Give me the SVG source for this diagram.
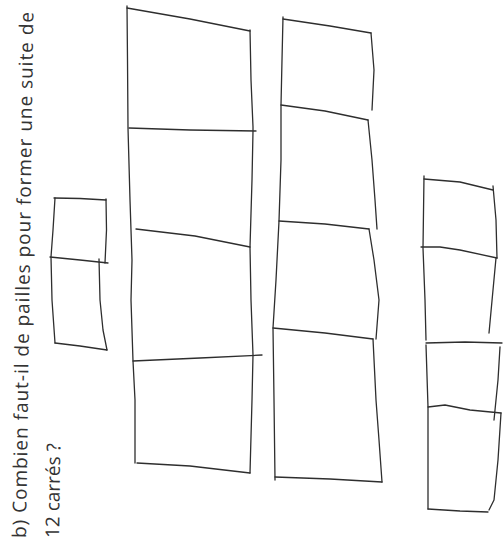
<svg xmlns="http://www.w3.org/2000/svg" width="503" height="543" viewBox="0 0 503 543">
<style>
.pen{fill:none;stroke:#2e2e2e;stroke-width:1.3;stroke-linecap:round;stroke-linejoin:round}
.q{font-family:"Open Sans","DejaVu Sans",sans-serif;font-size:19px;fill:#333333}
</style>
<rect width="503" height="543" fill="#ffffff"/>
<g id="question">
<text class="q" transform="translate(26,538) rotate(-89.2)" textLength="526" lengthAdjust="spacing">b) Combien faut-il de pailles pour former une suite de</text>
<text class="q" transform="translate(59,538) rotate(-89.2)">12 carrés ?</text>
</g>
<g id="stack-2">
<path class="pen" d="M54,198 L80,198.5 L106,200"/>
<path class="pen" d="M106,199 L106.5,230 L105,263"/>
<path class="pen" d="M55,198 L53,230 L51,257 L52,300 L55,343"/>
<path class="pen" d="M50,257 L80,260 L108,263"/>
<path class="pen" d="M99,259 L100,300 L103,330 L107,350"/>
<path class="pen" d="M55,343 L80,346 L107,350"/>
</g>
<g id="stack-4a">
<path class="pen" d="M127,8 L190,19 L250,31"/>
<path class="pen" d="M127,6 L127.5,60 L128,128 L130,200 L132,260 L131,300 L133,361 L135,400 L135,463"/>
<path class="pen" d="M250,30 L251,80 L253,127 L253,131 L252,180 L250,247 L251,300 L253,355 L252,400 L250,473"/>
<path class="pen" d="M129,128 L190,130 L256,131"/>
<path class="pen" d="M136,229 L195,236 L250,247"/>
<path class="pen" d="M133,361 L200,358 L262,355"/>
<path class="pen" d="M137,463 L190,466 L250,473"/>
</g>
<g id="stack-4b">
<path class="pen" d="M283,19 L330,26 L371,33"/>
<path class="pen" d="M283,17 L282,60 L281,105 L281,160 L279,221 L276,280 L273,328 L274,400 L275,480"/>
<path class="pen" d="M371,33 L374,70 L372,110"/>
<path class="pen" d="M281,105 L325,111 L368,120"/>
<path class="pen" d="M368,120 L372,160 L375,200 L377,229"/>
<path class="pen" d="M279,221 L325,224 L369,229"/>
<path class="pen" d="M369,229 L374,260 L379,300 L376,339"/>
<path class="pen" d="M273,328 L325,333 L373,339"/>
<path class="pen" d="M373,339 L376,400 L379,440 L382,482"/>
<path class="pen" d="M275,477 L330,479 L382,482"/>
</g>
<g id="stack-4c">
<path class="pen" d="M424,179 L460,182 L493,190"/>
<path class="pen" d="M493,186 L496,220 L497,258"/>
<path class="pen" d="M421,247 L440,247 L460,250 L497,258"/>
<path class="pen" d="M496,258 L493,290 L489,333"/>
<path class="pen" d="M426,343 L465,342 L502,343"/>
<path class="pen" d="M500,347 L498,380 L494,420"/>
<path class="pen" d="M428,407 L445,405 L470,410 L501,413"/>
<path class="pen" d="M501,413 L498,460 L494,500 L489,510"/>
<path class="pen" d="M428,509 L460,511 L488,512"/>
<path class="pen" d="M424,176 L423,248 L425,300 L426,340 M426,345 L428,407 L428,509"/>
</g>
<g id="connectors"/>
</svg>
